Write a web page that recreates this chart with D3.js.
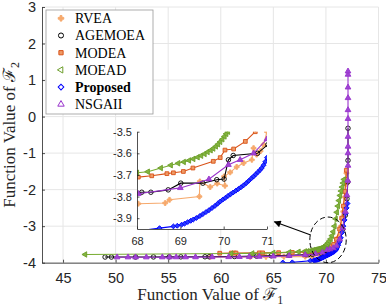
<!DOCTYPE html>
<html>
<head>
<meta charset="utf-8">
<script src="https://cdn.jsdelivr.net/npm/d3@7"></script>
<style>
  body { margin: 0; background: #fff; }
  svg { display: block; }
</style>
</head>
<body>
<svg></svg>
<script>
// values, [F1, F2]
var rvea = [[59.0,-3.84],[62.8,-3.84],[64.3,-3.838],[66.0,-3.836],[68.03,-3.833],[68.65,-3.83],[68.75,-3.815],
  [69.44,-3.8],[69.45,-3.73],[69.69,-3.756],[69.85,-3.74],[70.03,-3.75],[70.01,-3.707],[70.15,-3.688],[70.3,-3.663],
  [70.46,-3.645],[70.65,-3.63],[70.69,-3.576],[70.76,-3.606],[70.85,-3.59],[70.92,-3.56],[71.0,-3.5],[71.2,-3.3],
  [71.45,-3.0],[71.65,-2.6],[71.8,-2.2],[71.9,-1.85],[71.95,-1.55]];

var agemoea = [[49.0,-3.845],[49.6,-3.845],[51.9,-3.845],[53.6,-3.842],[55.1,-3.84],[56.2,-3.84],[58.5,-3.837],
  [58.9,-3.836],[61.3,-3.83],[63.4,-3.82],[64.8,-3.81],[66.5,-3.797],[68.11,-3.78],[68.32,-3.78],[68.72,-3.769],
  [69.01,-3.738],[69.52,-3.738],[69.84,-3.722],[70.01,-3.719],[70.11,-3.63],[70.22,-3.61],[70.78,-3.6],[71.02,-3.56],
  [71.3,-3.38],[71.6,-3.08],[71.85,-2.7],[72.0,-2.25],[72.08,-1.79],[72.1,-1.2],[72.1,-0.32]];

var modea = [[59.9,-3.74],[61.0,-3.735],[61.3,-3.735],[61.45,-3.735],[63.66,-3.73],[63.98,-3.73],[65.5,-3.725],
  [66.8,-3.718],[68.03,-3.71],[68.34,-3.704],[68.69,-3.694],[68.84,-3.69],[69.07,-3.684],[69.29,-3.668],[69.76,-3.637],
  [69.92,-3.62],[70.03,-3.585],[70.23,-3.58],[70.5,-3.545],[70.73,-3.5],[71.0,-3.36],[71.3,-3.08],[71.5,-2.78],
  [71.65,-2.45],[71.8,-2.05],[71.9,-1.72],[71.94,-1.47]];

var moead = [[47.1,-3.775],[61.0,-3.75],[63.0,-3.745],[65.0,-3.73],[66.5,-3.715],[67.4,-3.702],[68.0,-3.69],
  [68.25,-3.685],[68.55,-3.668],[68.78,-3.655],[68.95,-3.646],[69.08,-3.64],[69.2,-3.633],[69.3,-3.626],[69.4,-3.618],
  [69.48,-3.611],[69.56,-3.603],[69.63,-3.594],[69.7,-3.586],[69.76,-3.578],[69.82,-3.568],[69.87,-3.558],
  [69.92,-3.547],[69.97,-3.535],[70.02,-3.522],[70.06,-3.51],[70.1,-3.5],[70.2,-3.46],[70.32,-3.41],[70.45,-3.35],
  [70.58,-3.26],[70.7,-3.15],[70.82,-3.0],[70.93,-2.8],[71.04,-2.62],[71.14,-2.45],[71.24,-2.3],[71.34,-2.16],
  [71.44,-2.04],[71.54,-1.93],[71.63,-1.82],[71.72,-1.72]];

var proposed = [[65.9,-3.995],[66.8,-3.99],[68.52,-3.946],[68.84,-3.938],[68.93,-3.935],[69.03,-3.93],[69.1,-3.925],
  [69.17,-3.918],[69.24,-3.912],[69.3,-3.906],[69.37,-3.899],[69.45,-3.89],[69.52,-3.881],[69.59,-3.872],
  [69.66,-3.863],[69.73,-3.853],[69.8,-3.843],[69.86,-3.833],[69.92,-3.823],[69.98,-3.814],[70.04,-3.806],
  [70.1,-3.797],[70.16,-3.789],[70.22,-3.781],[70.28,-3.773],[70.34,-3.765],[70.4,-3.757],[70.46,-3.748],
  [70.52,-3.738],[70.58,-3.727],[70.64,-3.716],[70.69,-3.707],[70.74,-3.697],[70.79,-3.687],[70.84,-3.677],
  [70.88,-3.668],[70.92,-3.655],[70.96,-3.639],[71.0,-3.62],[71.08,-3.58],[71.18,-3.52],[71.3,-3.43],[71.42,-3.32],
  [71.55,-3.17],[71.67,-3.0],[71.78,-2.83],[71.88,-2.65],[71.97,-2.5],[72.05,-2.38]];

var nsgaii = [[50.14,-3.85],[51.18,-3.85],[51.9,-3.85],[52.92,-3.85],[54.44,-3.849],[55.13,-3.849],[55.76,-3.848],
  [56.65,-3.848],[57.6,-3.847],[59.18,-3.845],[60.75,-3.843],[61.77,-3.84],[62.7,-3.837],[63.66,-3.834],[65.0,-3.826],
  [66.5,-3.812],[68.03,-3.787],[69.0,-3.76],[69.66,-3.72],[70.11,-3.653],[70.38,-3.63],[70.69,-3.6],[71.0,-3.534],
  [71.3,-3.36],[71.6,-3.05],[71.85,-2.6],[72.0,-2.15],[72.08,-1.75],[72.1,-1.34],[72.1,-1.0],[72.1,-0.82],
  [72.1,-0.55],[72.1,-0.06],[72.1,0.18],[72.1,0.51],[72.1,0.8],[72.1,1.15],[72.1,1.24]];

var names = ['RVEA', 'AGEMOEA', 'MODEA', 'MOEAD', 'Proposed', 'NSGAII'];
var xTicks = [45, 50, 55, 60, 65, 70, 75];
var yTicks = [-4, -3, -2, -1, 0, 1, 2, 3];
var insetXTicks = [68, 69, 70, 71];
var insetYTicks = [-3.9, -3.8, -3.7, -3.6, -3.5];

var series = [
  {data: rvea,     line: '#f6a96c', stroke: '#f6a96c', fill: '#f6a96c', sym: d3.symbolCross,    size: 13, rot: 0},
  {data: agemoea,  line: '#000',    stroke: '#000',    fill: 'none',    sym: d3.symbolCircle,   size: 16, rot: 0},
  {data: modea,    line: '#d95319', stroke: '#d95319', fill: '#ee9a66', sym: d3.symbolSquare,   size: 14, rot: 0},
  {data: moead,    line: '#77ac30', stroke: '#6d9e2b', fill: '#83b53e', sym: d3.symbolTriangle, size: 13, rot: -90},
  {data: proposed, line: '#0000ff', stroke: '#0000ff', fill: '#2a3cff', sym: d3.symbolSquare,   size: 12, rot: 45},
  {data: nsgaii,   line: '#9933cc', stroke: '#9933cc', fill: '#9f45d4', sym: d3.symbolTriangle, size: 14, rot: 0}
];
series.forEach(function(s, i){ s.name = names[i]; });

var tickFont = '"Liberation Sans", Arial, sans-serif';
var serif = '"Liberation Serif", "Times New Roman", serif';
var axisColor = '#262626';
var plain = function(d){ return String(d); };

var svg = d3.select('svg').attr('width', 386).attr('height', 306);

var x = d3.scaleLinear().domain([43, 75]).range([42, 378.5]);
var y = d3.scaleLinear().domain([-4, 3]).range([262.7, 7]);

var ix = d3.scaleLinear().domain([68, 71]).range([137, 267]);
var iy = d3.scaleLinear().domain([-3.95, -3.5]).range([229, 131.7]);

var defs = svg.append('defs');
defs.append('clipPath').attr('id', 'mainClip').append('rect')
  .attr('x', x(43)).attr('y', y(3) - 6).attr('width', x(75) - x(43) + 6).attr('height', y(-4) - y(3) + 6);
defs.append('clipPath').attr('id', 'insetClip').append('rect')
  .attr('x', ix(68)).attr('y', iy(-3.5)).attr('width', ix(71) - ix(68)).attr('height', iy(-3.95) - iy(-3.5));
defs.append('marker').attr('id', 'arrowHead')
  .attr('viewBox', '0 0 10 10').attr('refX', 9).attr('refY', 5)
  .attr('markerWidth', 9).attr('markerHeight', 7).attr('markerUnits', 'userSpaceOnUse')
  .attr('orient', 'auto')
  .append('path').attr('d', 'M0,0L10,5L0,10Z').attr('fill', '#000');

// grid
var grid = svg.append('g');
grid.selectAll('.gx').data(xTicks).enter().append('line')
  .attr('x1', function(d){ return x(d); }).attr('x2', function(d){ return x(d); })
  .attr('y1', y(-4)).attr('y2', y(3))
  .attr('stroke', '#e6e6e6').attr('stroke-width', 1);
grid.selectAll('.gy').data(yTicks).enter().append('line')
  .attr('y1', function(d){ return y(d); }).attr('y2', function(d){ return y(d); })
  .attr('x1', x(43)).attr('x2', x(75))
  .attr('stroke', '#e6e6e6').attr('stroke-width', 1);

function drawSeries(g, xs, ys, clip){
  var holder = g.append('g').attr('clip-path', 'url(#' + clip + ')');
  var line = d3.line().x(function(d){ return xs(d[0]); }).y(function(d){ return ys(d[1]); });
  series.forEach(function(s){
    holder.append('path').datum(s.data)
      .attr('d', line).attr('fill', 'none')
      .attr('stroke', s.line).attr('stroke-width', 1.1);
    holder.selectAll(null).data(s.data).enter().append('path')
      .attr('d', d3.symbol().type(s.sym).size(s.size))
      .attr('transform', function(d){ return 'translate(' + xs(d[0]) + ',' + ys(d[1]) + ') rotate(' + s.rot + ')'; })
      .attr('fill', s.fill).attr('stroke', s.stroke).attr('stroke-width', 0.9);
  });
}

drawSeries(svg, x, y, 'mainClip');

function styleAxis(g, size){
  g.select('.domain').attr('stroke', axisColor).attr('stroke-width', 0.8);
  g.selectAll('.tick line').attr('stroke', axisColor).attr('stroke-width', 0.8);
  g.selectAll('.tick text').attr('fill', axisColor)
    .style('font-family', tickFont).style('font-size', size + 'px');
}

var xAxis = svg.append('g').attr('transform', 'translate(0,' + y(-4) + ')')
  .call(d3.axisBottom(x).tickValues(xTicks).tickFormat(plain).tickSizeInner(-3).tickSizeOuter(0).tickPadding(10));
styleAxis(xAxis, 14.5);
var yAxis = svg.append('g').attr('transform', 'translate(' + x(43) + ',0)')
  .call(d3.axisLeft(y).tickValues(yTicks).tickFormat(plain).tickSizeInner(-3).tickSizeOuter(0).tickPadding(6));
styleAxis(yAxis, 14.5);

// dashed ellipse and arrow
svg.append('ellipse')
  .attr('cx', x(70.2)).attr('cy', y(-3.375))
  .attr('rx', x(71.93) - x(70.2)).attr('ry', y(-4.0) - y(-3.375))
  .attr('fill', 'none').attr('stroke', '#000').attr('stroke-width', 1)
  .attr('stroke-dasharray', '5,3');
svg.append('line')
  .attr('x1', x(68.56)).attr('y1', y(-3.24))
  .attr('x2', x(65.1)).attr('y2', y(-2.88))
  .attr('stroke', '#000').attr('stroke-width', 1.1)
  .attr('marker-end', 'url(#arrowHead)');

// inset
var inset = svg.append('g');
inset.append('rect')
  .attr('x', ix(68)).attr('y', iy(-3.5) - 2)
  .attr('width', ix(71) - ix(68) + 2).attr('height', iy(-3.95) - iy(-3.5) + 2)
  .attr('fill', '#fff');
drawSeries(inset, ix, iy, 'insetClip');

var ixAxis = inset.append('g').attr('transform', 'translate(0,' + iy(-3.95) + ')')
  .call(d3.axisBottom(ix).tickValues(insetXTicks).tickFormat(plain).tickSizeInner(-2.5).tickSizeOuter(0).tickPadding(8.5));
styleAxis(ixAxis, 11);
var iyAxis = inset.append('g').attr('transform', 'translate(' + ix(68) + ',0)')
  .call(d3.axisLeft(iy).tickValues(insetYTicks).tickFormat(plain).tickSizeInner(-2.5).tickSizeOuter(0).tickPadding(5));
styleAxis(iyAxis, 11);

// legend
var legend = svg.append('g');
legend.append('rect').attr('x', 46).attr('y', 10).attr('width', 107).attr('height', 104)
  .attr('fill', '#fff').attr('stroke', '#999').attr('stroke-width', 0.8);
var rows = legend.selectAll('.row').data(series).enter().append('g')
  .attr('transform', function(d, i){ return 'translate(0,' + (18.3 + i * 17.2) + ')'; });
rows.append('path')
  .attr('d', function(d){ return d3.symbol().type(d.sym).size(d.size + 4)(); })
  .attr('transform', function(d){ return 'translate(61,0) rotate(' + d.rot + ')'; })
  .attr('fill', function(d){ return d.name === 'RVEA' || d.name === 'MODEA' ? d.fill : 'none'; })
  .attr('stroke', function(d){ return d.stroke; }).attr('stroke-width', 1);
rows.append('text')
  .attr('x', 75).attr('dy', '0.35em')
  .style('font-family', serif).style('font-size', '14px')
  .style('font-weight', function(d){ return d.name === 'Proposed' ? 'bold' : 'normal'; })
  .attr('fill', '#000')
  .text(function(d){ return d.name; });

// axis titles
var xl = svg.append('text')
  .attr('x', (x(43) + x(75)) / 2).attr('y', 300)
  .attr('text-anchor', 'middle')
  .style('font-family', serif).style('font-size', '17px').attr('fill', '#262626');
xl.append('tspan').text('Function Value of ');
xl.append('tspan').text('\u2131');
xl.append('tspan').attr('dy', 4).style('font-size', '12px').text('1');

var yl = svg.append('text')
  .attr('transform', 'translate(15,' + ((y(-4) + y(3)) / 2) + ') rotate(-90)')
  .attr('text-anchor', 'middle')
  .style('font-family', serif).style('font-size', '17px').attr('fill', '#262626');
yl.append('tspan').text('Function Value of ');
yl.append('tspan').text('\u2131');
yl.append('tspan').attr('dy', 4).style('font-size', '12px').text('2');
</script>
</body>
</html>
